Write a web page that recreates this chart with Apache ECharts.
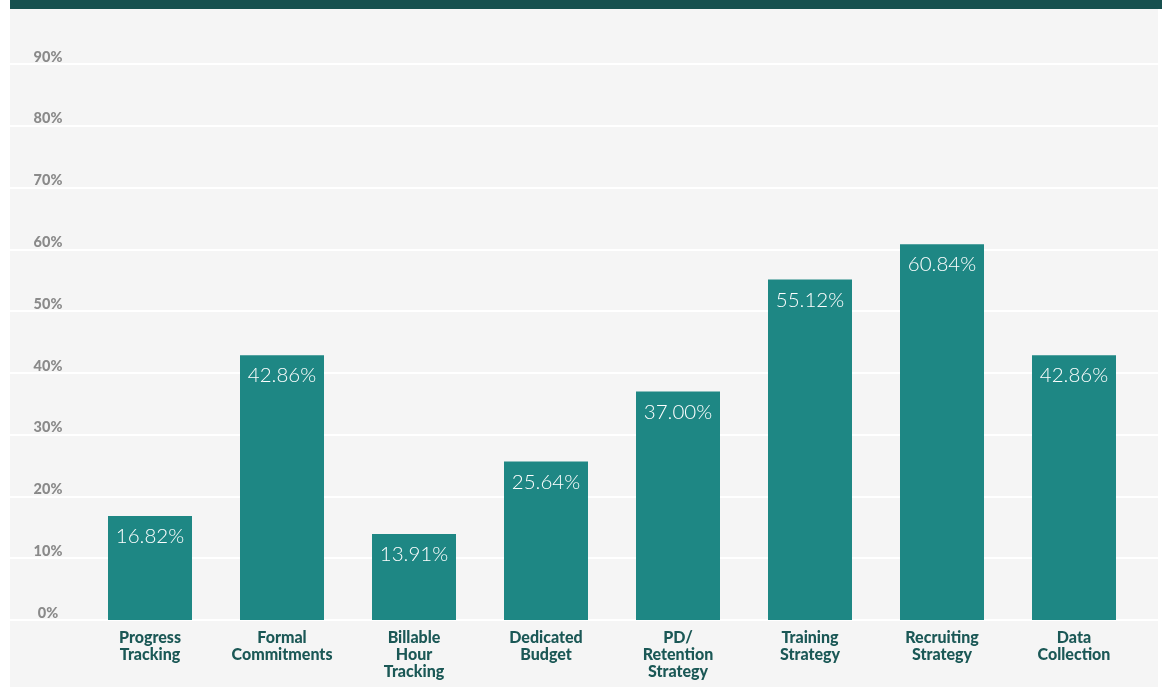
<!DOCTYPE html>
<html>
<head>
<meta charset="utf-8">
<title>Practices in place</title>
<script src="https://cdn.jsdelivr.net/npm/echarts@6/dist/echarts.min.js"></script>
<style>
  html, body { margin: 0; padding: 0; background: #ffffff; }
  #wrap { position: relative; width: 1162px; height: 687px; overflow: hidden; }
  #panel { position: absolute; left: 10px; top: 9px; width: 1148px; height: 678px; background: #f5f5f5; }
  #banner { position: absolute; left: 10px; top: 0; width: 1152px; height: 9px; background: #17504f; }
  #chart { position: absolute; left: 0; top: 0; width: 1162px; height: 687px; }
</style>
</head>
<body>
<div id="wrap">
  <div id="panel"></div>
  <div id="banner"></div>
  <div id="chart"></div>
</div>
<script>
// Share of respondents with each practice in place (%)
const categories = [
  'Progress\nTracking',
  'Formal\nCommitments',
  'Billable\nHour\nTracking',
  'Dedicated\nBudget',
  'PD/\nRetention\nStrategy',
  'Training\nStrategy',
  'Recruiting\nStrategy',
  'Data\nCollection'
];
const values = [16.82, 42.86, 13.91, 25.64, 37.00, 55.12, 60.84, 42.86];
const yTicks = [0, 10, 20, 30, 40, 50, 60, 70, 80, 90];

const TEAL = '#1e8784';
const DARK = '#1b5856';
const FONT = 'Lato, "Open Sans", sans-serif';

const chart = echarts.init(document.getElementById('chart'), null, { renderer: 'canvas' });

const yMin = yTicks[0];
const yMax = yTicks[yTicks.length - 1];
const yStep = yTicks[1] - yTicks[0];

chart.setOption({
  backgroundColor: 'transparent',
  animation: false,
  grid: [
    // bars
    { left: 84, right: 22, top: 64, bottom: 67 },
    // full-width gridlines behind the bars
    { left: 10, right: 4, top: 64, bottom: 67 }
  ],
  xAxis: [
    {
      type: 'category',
      gridIndex: 0,
      data: categories,
      axisLine: { show: false },
      axisTick: { show: false },
      axisLabel: {
        interval: 0,
        margin: 9,
        color: DARK,
        fontFamily: FONT,
        fontWeight: 900,
        fontSize: 16,
        lineHeight: 17
      }
    },
    {
      type: 'value',
      gridIndex: 1,
      min: 0,
      max: 1,
      show: false
    }
  ],
  yAxis: [
    {
      type: 'value',
      gridIndex: 0,
      min: yMin,
      max: yMax,
      interval: yStep,
      axisLine: { show: false },
      axisTick: { show: false },
      splitLine: { show: false },
      axisLabel: {
        margin: 36,
        align: 'center',
        verticalAlign: 'bottom',
        lineHeight: 14,
        padding: [0, 0, 0, 0],
        color: '#8a8a8a',
        fontFamily: FONT,
        fontWeight: 900,
        fontSize: 14.5,
        formatter: '{value}%'
      }
    },
    {
      type: 'value',
      gridIndex: 1,
      min: yMin,
      max: yMax,
      interval: yStep,
      axisLine: { show: false },
      axisTick: { show: false },
      axisLabel: { show: false },
      splitLine: { show: true, lineStyle: { color: '#ffffff', width: 2 } }
    }
  ],
  series: [
    {
      type: 'bar',
      xAxisIndex: 0,
      yAxisIndex: 0,
      data: values,
      barWidth: 84,
      z: 5,
      itemStyle: { color: TEAL },
      label: {
        show: true,
        position: 'insideTop',
        distance: 10,
        color: '#ffffff',
        fontFamily: FONT,
        fontWeight: 300,
        fontSize: 20.5,
        formatter: p => p.value.toFixed(2) + '%'
      }
    }
  ]
});
</script>
</body>
</html>
